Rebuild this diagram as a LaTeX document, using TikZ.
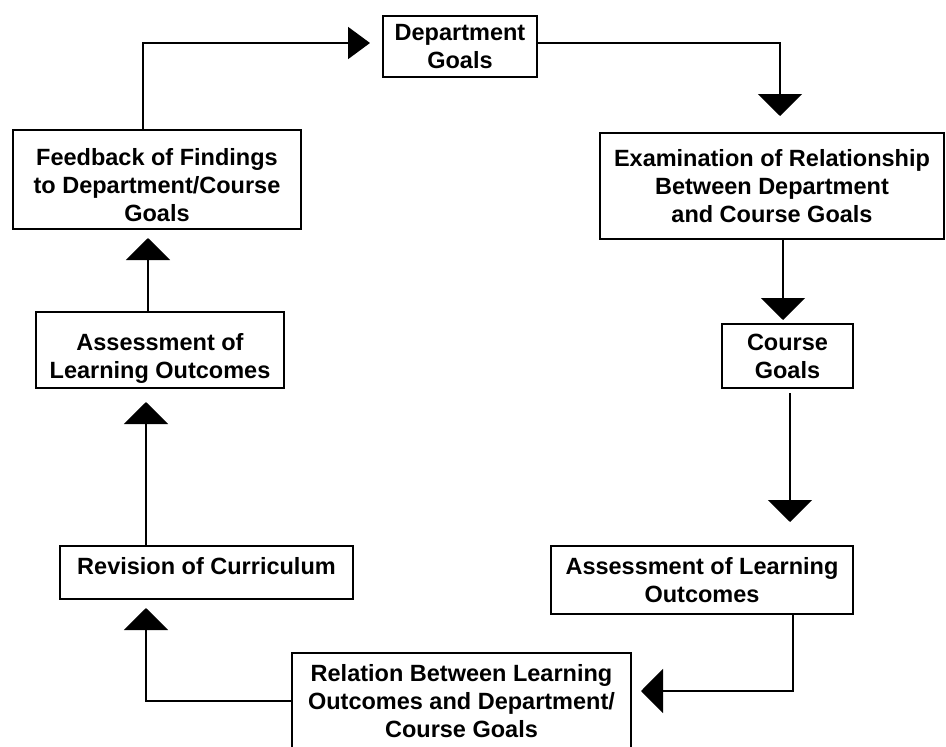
\documentclass[tikz,border=0pt]{standalone}
\usepackage{fontspec}
\setmainfont{Liberation Sans}
\usetikzlibrary{arrows.meta}
\begin{document}
\begin{tikzpicture}[x=1pt,y=-1pt,
  box/.style={draw, line width=2pt, align=center, inner sep=0pt,
    font=\bfseries\fontsize{23.5}{28}\selectfont},
  flow/.style={line width=2pt, -{Triangle[length=22pt,width=44pt]}},
  flownarrow/.style={line width=2pt, -{Triangle[length=22pt,width=32pt]}}]
\useasboundingbox (0,0) rectangle (946,747);

\node[box, minimum width=154pt, minimum height=61pt] (dept) at (460,46.5) {Department\\Goals};
\node[box, minimum width=344pt, minimum height=106pt] (exam) at (772,186) {Examination of Relationship\\Between Department\\and Course Goals};
\node[box, minimum width=131pt, minimum height=64pt] (course) at (787.5,356) {Course\\Goals};
\node[box, minimum width=302pt, minimum height=68pt] (assessR) at (702,580) {Assessment of Learning\\Outcomes};
\node[box, minimum width=339pt, minimum height=97pt] (relation) at (461.5,701.5) {Relation Between Learning\\Outcomes and Department/\\Course Goals};
\node[box, minimum width=293pt, text height=28.5pt, text depth=24.5pt] (revision) at (206.5,572.5) {Revision of Curriculum};
\node[box, minimum width=248pt, text height=66.5pt, text depth=9.5pt] (assessL) at (160,350) {Assessment of\\Learning Outcomes};
\node[box, minimum width=288pt, text height=91.5pt, text depth=7.5pt] (feedback) at (157,179.5) {Feedback of Findings\\to Department/Course\\Goals};

\draw[flownarrow, shorten >=12pt] ([xshift=-14pt]feedback.north) |- ([yshift=3.5pt]dept.west);
\draw[flow, shorten >=16pt] ([yshift=3.5pt]dept.east) -| ([xshift=8pt]exam.north);
\draw[flow, shorten >=3pt] ([xshift=11pt]exam.south) -- ([xshift=11pt]exam.south |- course.north);
\draw[flow, shorten <=4pt, shorten >=23pt] ([xshift=2.5pt]course.south) -- ([xshift=2.5pt]course.south |- assessR.north);
\draw[flow, shorten >=9pt] ([xshift=91pt]assessR.south) |- ([yshift=10.5pt]relation.east);
\draw[flow, shorten >=8pt] ([yshift=0.5pt]relation.west) -| ([xshift=-60.5pt]revision.south);
\draw[flow, shorten >=13pt] ([xshift=-60.5pt]revision.north) -- ([xshift=-60.5pt]revision.north |- assessL.south);
\draw[flow, shorten >=8pt] ([xshift=-12pt]assessL.north) -- ([xshift=-12pt]assessL.north |- feedback.south);
\end{tikzpicture}
\end{document}
